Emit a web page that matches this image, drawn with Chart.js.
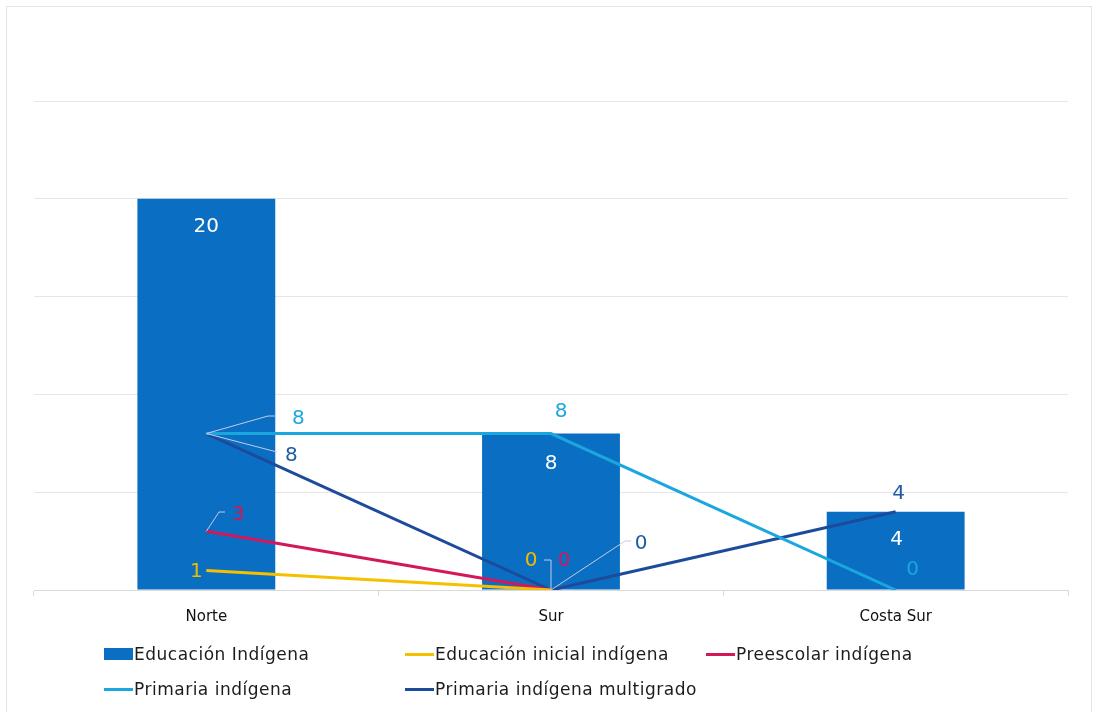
<!DOCTYPE html>
<html>
<head>
<meta charset="utf-8">
<script src="https://cdn.jsdelivr.net/npm/chart.js@4.4.0/dist/chart.umd.min.js"></script>
<style>
  body { margin: 0; background: #fff; font-family: "DejaVu Sans", sans-serif; }
  #wrap { position: relative; width: 1096px; height: 712px; }
  #frame { position: absolute; left: 6px; top: 6px; width: 1086px; height: 712px; border: 1px solid #e4e1ea; box-sizing: border-box; }
  #legend { position: absolute; left: 0; top: 0; width: 1096px; height: 712px; pointer-events: none; }
  .item { position: absolute; display: flex; align-items: center; font-size: 17px; letter-spacing: 0.5px; color: #1c1c1c; white-space: nowrap; }
  .sw { display: inline-block; width: 29px; margin-right: 1px; }
</style>
</head>
<body>
<div id="wrap">
  <div id="frame"></div>
  <canvas id="grafica" width="1096" height="712"></canvas>
  <div id="legend"></div>
</div>
<script>
// Datos
var regiones = ['Norte', 'Sur', 'Costa Sur'];
var educacionIndigena = [20, 8, 4];
var inicialIndigena = [1, 0, null];
var preescolarIndigena = [3, 0, null];
var primariaIndigena = [8, 8, 0];
var primariaMultigrado = [8, 0, 4];

// Posicion de etiquetas (desplazamiento desde el punto) y lineas guia
var etiquetas = {
    0: [{dx: 0, dy: 28, c: '#ffffff'}, {dx: 0, dy: 30, c: '#ffffff'}, {dx: 1, dy: 28, c: '#ffffff'}],
    1: [{dx: -10, dy: 1}, {dx: -20, dy: -29, guia: [[551, 560], [544, 560]]}, null],
    2: [{dx: 32, dy: -17, guia: [[219, 512], [225, 512]]}, {dx: 13, dy: -29}, null],
    3: [{dx: 92, dy: -15, guia: [[268, 416], [276, 416]]}, {dx: 10, dy: -22}, {dx: 17, dy: -20}],
    4: [{dx: 85, dy: 22, guia: [[277, 452]]}, {dx: 90, dy: -46, guia: [[625, 541], [631, 541]]}, {dx: 3, dy: -18}]
};

var colores = ['#0a6fc2', '#f5c000', '#d4175a', '#1aa7e0', '#1c4b9c'];
var coloresTexto = ['#ffffff', '#f0bc00', '#d4175a', '#1aa7e0', '#1f5aa6'];

var pluginEtiquetas = {
    id: 'etiquetas',
    afterDatasetsDraw: function(chart) {
        var ctx = chart.ctx;
        ctx.save();
        ctx.font = '20px "DejaVu Sans", sans-serif';
        ctx.textAlign = 'center';
        ctx.textBaseline = 'middle';
        chart.data.datasets.forEach(function(ds, i) {
            var meta = chart.getDatasetMeta(i);
            meta.data.forEach(function(el, j) {
                var cfg = etiquetas[i][j];
                if (!cfg || ds.data[j] === null) return;
                var x = el.x, y = el.y;
                if (cfg.guia) {
                    ctx.strokeStyle = '#c3cbe6';
                    ctx.lineWidth = 1;
                    ctx.beginPath();
                    ctx.moveTo(x, y);
                    cfg.guia.forEach(function(p) { ctx.lineTo(p[0], p[1]); });
                    ctx.stroke();
                }
                ctx.fillStyle = cfg.c || coloresTexto[i];
                ctx.fillText(String(ds.data[j]), x + cfg.dx, y + cfg.dy);
            });
        });
        ctx.restore();
    }
};

var grafica = new Chart(document.getElementById('grafica'), {
    type: 'bar',
    data: {
        labels: regiones,
        datasets: [{
            label: 'Educación Indígena',
            data: educacionIndigena,
            backgroundColor: colores[0],
            barPercentage: 0.4,
            categoryPercentage: 1,
            order: 1
        }, {
            type: 'line',
            label: 'Educación inicial indígena',
            data: inicialIndigena,
            borderColor: colores[1],
            order: 0
        }, {
            type: 'line',
            label: 'Preescolar indígena',
            data: preescolarIndigena,
            borderColor: colores[2],
            order: 0
        }, {
            type: 'line',
            label: 'Primaria indígena',
            data: primariaIndigena,
            borderColor: colores[3],
            order: 0
        }, {
            type: 'line',
            label: 'Primaria indígena multigrado',
            data: primariaMultigrado,
            borderColor: colores[4],
            order: 0
        }]
    },
    options: {
        responsive: false,
        animation: false,
        layout: { padding: { left: 34, right: 28, top: 101, bottom: 82 } },
        elements: {
            line: { borderWidth: 3, tension: 0 },
            point: { radius: 0, hoverRadius: 0 }
        },
        plugins: {
            legend: { display: false },
            tooltip: { enabled: false }
        },
        scales: {
            x: {
                offset: true,
                grid: { display: true, drawOnChartArea: false, offset: true, tickLength: 6, color: '#d9d9d9' },
                border: { color: '#d9d9d9' },
                ticks: { color: '#111', font: { family: '"DejaVu Sans", sans-serif', size: 15 }, padding: 12 },
                afterFit: function(s) { s.height = 40; }
            },
            y: {
                min: 0,
                max: 25,
                ticks: { display: false, stepSize: 5 },
                grid: { color: '#e6e6e6', drawTicks: false },
                border: { display: false },
                afterFit: function(s) { s.width = 0; }
            }
        }
    },
    plugins: [pluginEtiquetas]
});

// Leyenda en rejilla de tres columnas
var posLeyenda = [[104, 654], [405, 654], [706, 654], [104, 689], [405, 689]];
var leyenda = document.getElementById('legend');
grafica.data.datasets.forEach(function(ds, i) {
    var div = document.createElement('div');
    div.className = 'item';
    div.style.left = posLeyenda[i][0] + 'px';
    div.style.top = (posLeyenda[i][1] - 11) + 'px';
    div.style.height = '22px';
    var sw = document.createElement('span');
    sw.className = 'sw';
    if (ds.type === 'line') {
        sw.style.height = '3px';
        sw.style.background = ds.borderColor;
    } else {
        sw.style.height = '12px';
        sw.style.background = ds.backgroundColor;
    }
    div.appendChild(sw);
    div.appendChild(document.createTextNode(ds.label));
    leyenda.appendChild(div);
});
</script>
</body>
</html>
